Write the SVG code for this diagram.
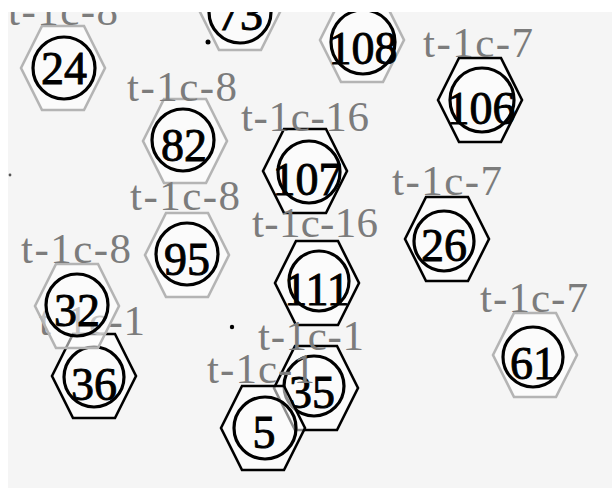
<svg xmlns="http://www.w3.org/2000/svg" width="612" height="490" viewBox="0 0 612 490">
<style>
.hx{fill:#ffffff;fill-opacity:0.55;stroke-width:2.6;stroke-linejoin:miter}
.g .hx{stroke:#b4b4b4}
.k .hx{stroke:#000}
.cr{fill:none;stroke:#000;stroke-width:3.2}
.num{font-family:"Liberation Serif",serif;font-size:46px;fill:#000;stroke:#000;stroke-width:0.9;text-anchor:middle}
.lbl{font-family:"Liberation Serif",serif;font-size:43px;fill:#7c7c7c;text-anchor:middle}
</style>
<defs>
<polygon id="hex" points="-42,0 -21,-42 21,-42 42,0 21,42 -21,42"/>
</defs>
<rect x="0" y="0" width="612" height="490" fill="#ffffff"/>
<rect x="8" y="12" width="604" height="476" fill="#f5f5f5"/>
<g id="connectors"></g>
<g id="dots">
<circle cx="208" cy="42" r="2.5" fill="#000"/>
<circle cx="232" cy="327" r="2.2" fill="#000"/>
<circle cx="10" cy="175" r="1.4" fill="#555"/>
</g>
<g id="n24" class="g" transform="translate(63,68)">
<use href="#hex" class="hx"/><circle class="cr" cx="1" cy="0" r="31"/>
<text class="num" x="1" y="16">24</text>
<text class="lbl" x="0" y="-43" textLength="110" lengthAdjust="spacing">t-1c-8</text>
</g>
<g id="n73" class="g" transform="translate(240,8)">
<use href="#hex" class="hx"/><circle class="cr" cx="0" cy="4" r="31"/>
<text class="num" x="0" y="22">73</text>
</g>
<g id="n108" class="g" transform="translate(362,40)">
<use href="#hex" class="hx"/><circle class="cr" cx="1" cy="2" r="32"/>
<text class="num" x="1" y="24">108</text>
</g>
<g id="n106" class="k" transform="translate(480,100)">
<use href="#hex" class="hx"/><circle class="cr" cx="2" cy="0" r="32"/>
<text class="num" x="1" y="24">106</text>
<text class="lbl" x="-2" y="-43" textLength="110" lengthAdjust="spacing">t-1c-7</text>
</g>
<g id="n82" class="g" transform="translate(185,141)">
<use href="#hex" class="hx"/><circle class="cr" cx="-2" cy="-1" r="31"/>
<text class="num" x="-1" y="20">82</text>
<text class="lbl" x="-3" y="-40" textLength="110" lengthAdjust="spacing">t-1c-8</text>
</g>
<g id="n107" class="k" transform="translate(305,171)">
<use href="#hex" class="hx"/><circle class="cr" cx="4" cy="1" r="31"/>
<text class="num" x="2" y="24">107</text>
<text class="lbl" x="0" y="-40" textLength="128" lengthAdjust="spacing">t-1c-16</text>
</g>
<g id="n95" class="g" transform="translate(187,255)">
<use href="#hex" class="hx"/><circle class="cr" cx="0" cy="-1" r="31"/>
<text class="num" x="0" y="20">95</text>
<text class="lbl" x="-2" y="-45" textLength="110" lengthAdjust="spacing">t-1c-8</text>
</g>
<g id="n26" class="k" transform="translate(447,239)">
<use href="#hex" class="hx"/><circle class="cr" cx="-3" cy="2" r="30"/>
<text class="num" x="-3" y="22">26</text>
<text class="lbl" x="0" y="-44" textLength="110" lengthAdjust="spacing">t-1c-7</text>
</g>
<g id="n111" class="k" transform="translate(317,283)">
<use href="#hex" class="hx"/><circle class="cr" cx="2" cy="-2" r="30"/>
<text class="num" x="0" y="22">111</text>
<text class="lbl" x="-2" y="-46" textLength="126" lengthAdjust="spacing">t-1c-16</text>
</g>
<g id="n36" class="k" transform="translate(94,376)">
<use href="#hex" class="hx"/><circle class="cr" cx="0" cy="1" r="30"/>
<text class="num" x="0" y="24">36</text>
<text class="lbl" x="-2" y="-41" textLength="106" lengthAdjust="spacing">t-1c-1</text>
</g>
<g id="n32" class="g" transform="translate(77,306)">
<use href="#hex" class="hx"/><circle class="cr" cx="0" cy="-1" r="31"/>
<text class="num" x="0" y="20">32</text>
<text class="lbl" x="-1" y="-43" textLength="110" lengthAdjust="spacing">t-1c-8</text>
</g>
<g id="n61" class="g" transform="translate(535,355)">
<use href="#hex" class="hx"/><circle class="cr" cx="-2" cy="2" r="30"/>
<text class="num" x="-2" y="24">61</text>
<text class="lbl" x="-1" y="-43" textLength="108" lengthAdjust="spacing">t-1c-7</text>
</g>
<g id="n35" class="k" transform="translate(316,388)">
<use href="#hex" class="hx"/><circle class="cr" cx="-2" cy="-2" r="30"/>
<text class="num" x="-4" y="20">35</text>
<text class="lbl" x="-5" y="-38" textLength="106" lengthAdjust="spacing">t-1c-1</text>
</g>
<g id="n5" class="k" transform="translate(263,428)">
<use href="#hex" class="hx"/><circle class="cr" cx="2" cy="0" r="31"/>
<text class="num" x="1" y="20">5</text>
<text class="lbl" x="-2" y="-45" textLength="108" lengthAdjust="spacing">t-1c-1</text>
</g>
<rect x="0" y="0" width="612" height="12" fill="#ffffff"/>
<rect x="0" y="0" width="8" height="490" fill="#ffffff"/>
<rect x="0" y="488" width="612" height="2" fill="#ffffff"/>
</svg>
